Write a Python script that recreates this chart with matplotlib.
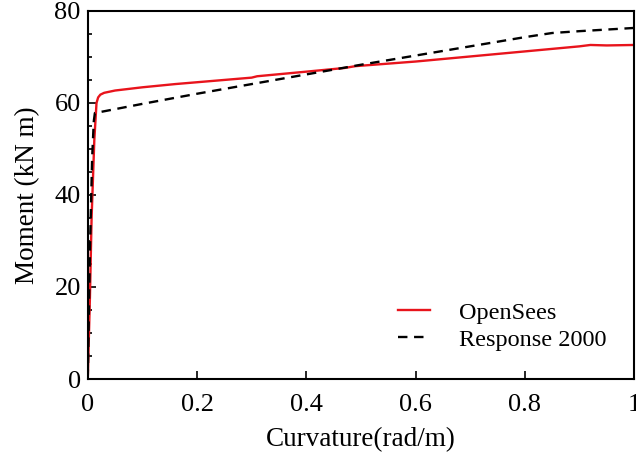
import matplotlib
matplotlib.use("Agg")
import matplotlib.pyplot as plt
from matplotlib.ticker import MultipleLocator

plt.rcParams['font.family'] = ['Liberation Serif', 'DejaVu Serif']
plt.rcParams['mathtext.fontset'] = 'stix'

# OpenSees curve
os_x = [0.0, 0.004, 0.007, 0.012, 0.016, 0.019, 0.023, 0.03, 0.05, 0.1, 0.16, 0.2, 0.25, 0.3, 0.31, 0.4, 0.47, 0.49, 0.6, 0.7, 0.8, 0.9, 0.92, 0.95, 1.0]
os_y = [0.0, 18.0, 35.0, 52.0, 60.0, 61.2, 61.8, 62.2, 62.7, 63.4, 64.1, 64.5, 65.0, 65.5, 65.8, 66.8, 67.6, 68.0, 69.0, 70.1, 71.2, 72.3, 72.6, 72.5, 72.6]

# Response 2000 curve
r_x = [0.0, 0.004, 0.008, 0.011, 0.013, 0.1, 0.2, 0.3, 0.4, 0.5, 0.6, 0.7, 0.8, 0.85, 0.9, 1.0]
r_y = [0.0, 28.0, 48.0, 56.0, 57.8, 59.8, 62.0, 64.1, 66.2, 68.3, 70.3, 72.3, 74.3, 75.2, 75.6, 76.3]

fig = plt.figure(figsize=(6.36, 4.55), dpi=100)
ax = fig.add_axes([0.138, 0.167, 0.859, 0.809])

ax.plot(os_x, os_y, color='#e8141c', lw=1.7, label='OpenSees')
ax.plot(r_x, r_y, color='black', lw=1.7, ls=(0, (4, 2.8)), label='Response 2000')

ax.set_xlim(0, 1)
ax.set_ylim(0, 80)
ax.yaxis.set_major_locator(MultipleLocator(20))
ax.yaxis.set_minor_locator(MultipleLocator(5))
ax.set_xticks([0, 0.2, 0.4, 0.6, 0.8, 1.0])
ax.set_xticklabels(['0', '0.2', '0.4', '0.6', '0.8', '1'])
ax.tick_params(which='both', direction='in', labelsize=19, width=1.2)
ax.tick_params(which='major', length=6)
ax.tick_params(which='minor', length=3)
ax.tick_params(axis='x', pad=11)
ax.tick_params(axis='y', pad=5)
for s in ax.spines.values():
    s.set_linewidth(1.5)

ax.set_xlabel('Curvature(rad/m)', fontsize=19.5, labelpad=8)
ax.set_ylabel('Moment (kN m)', fontsize=19.5, labelpad=10)

ax.legend(loc='lower right', frameon=False, fontsize=17.5, handlelength=1.3,
          bbox_to_anchor=(0.989, 0.018), labelspacing=0.2, handletextpad=1.2)

fig.savefig('out.png', dpi=100)
